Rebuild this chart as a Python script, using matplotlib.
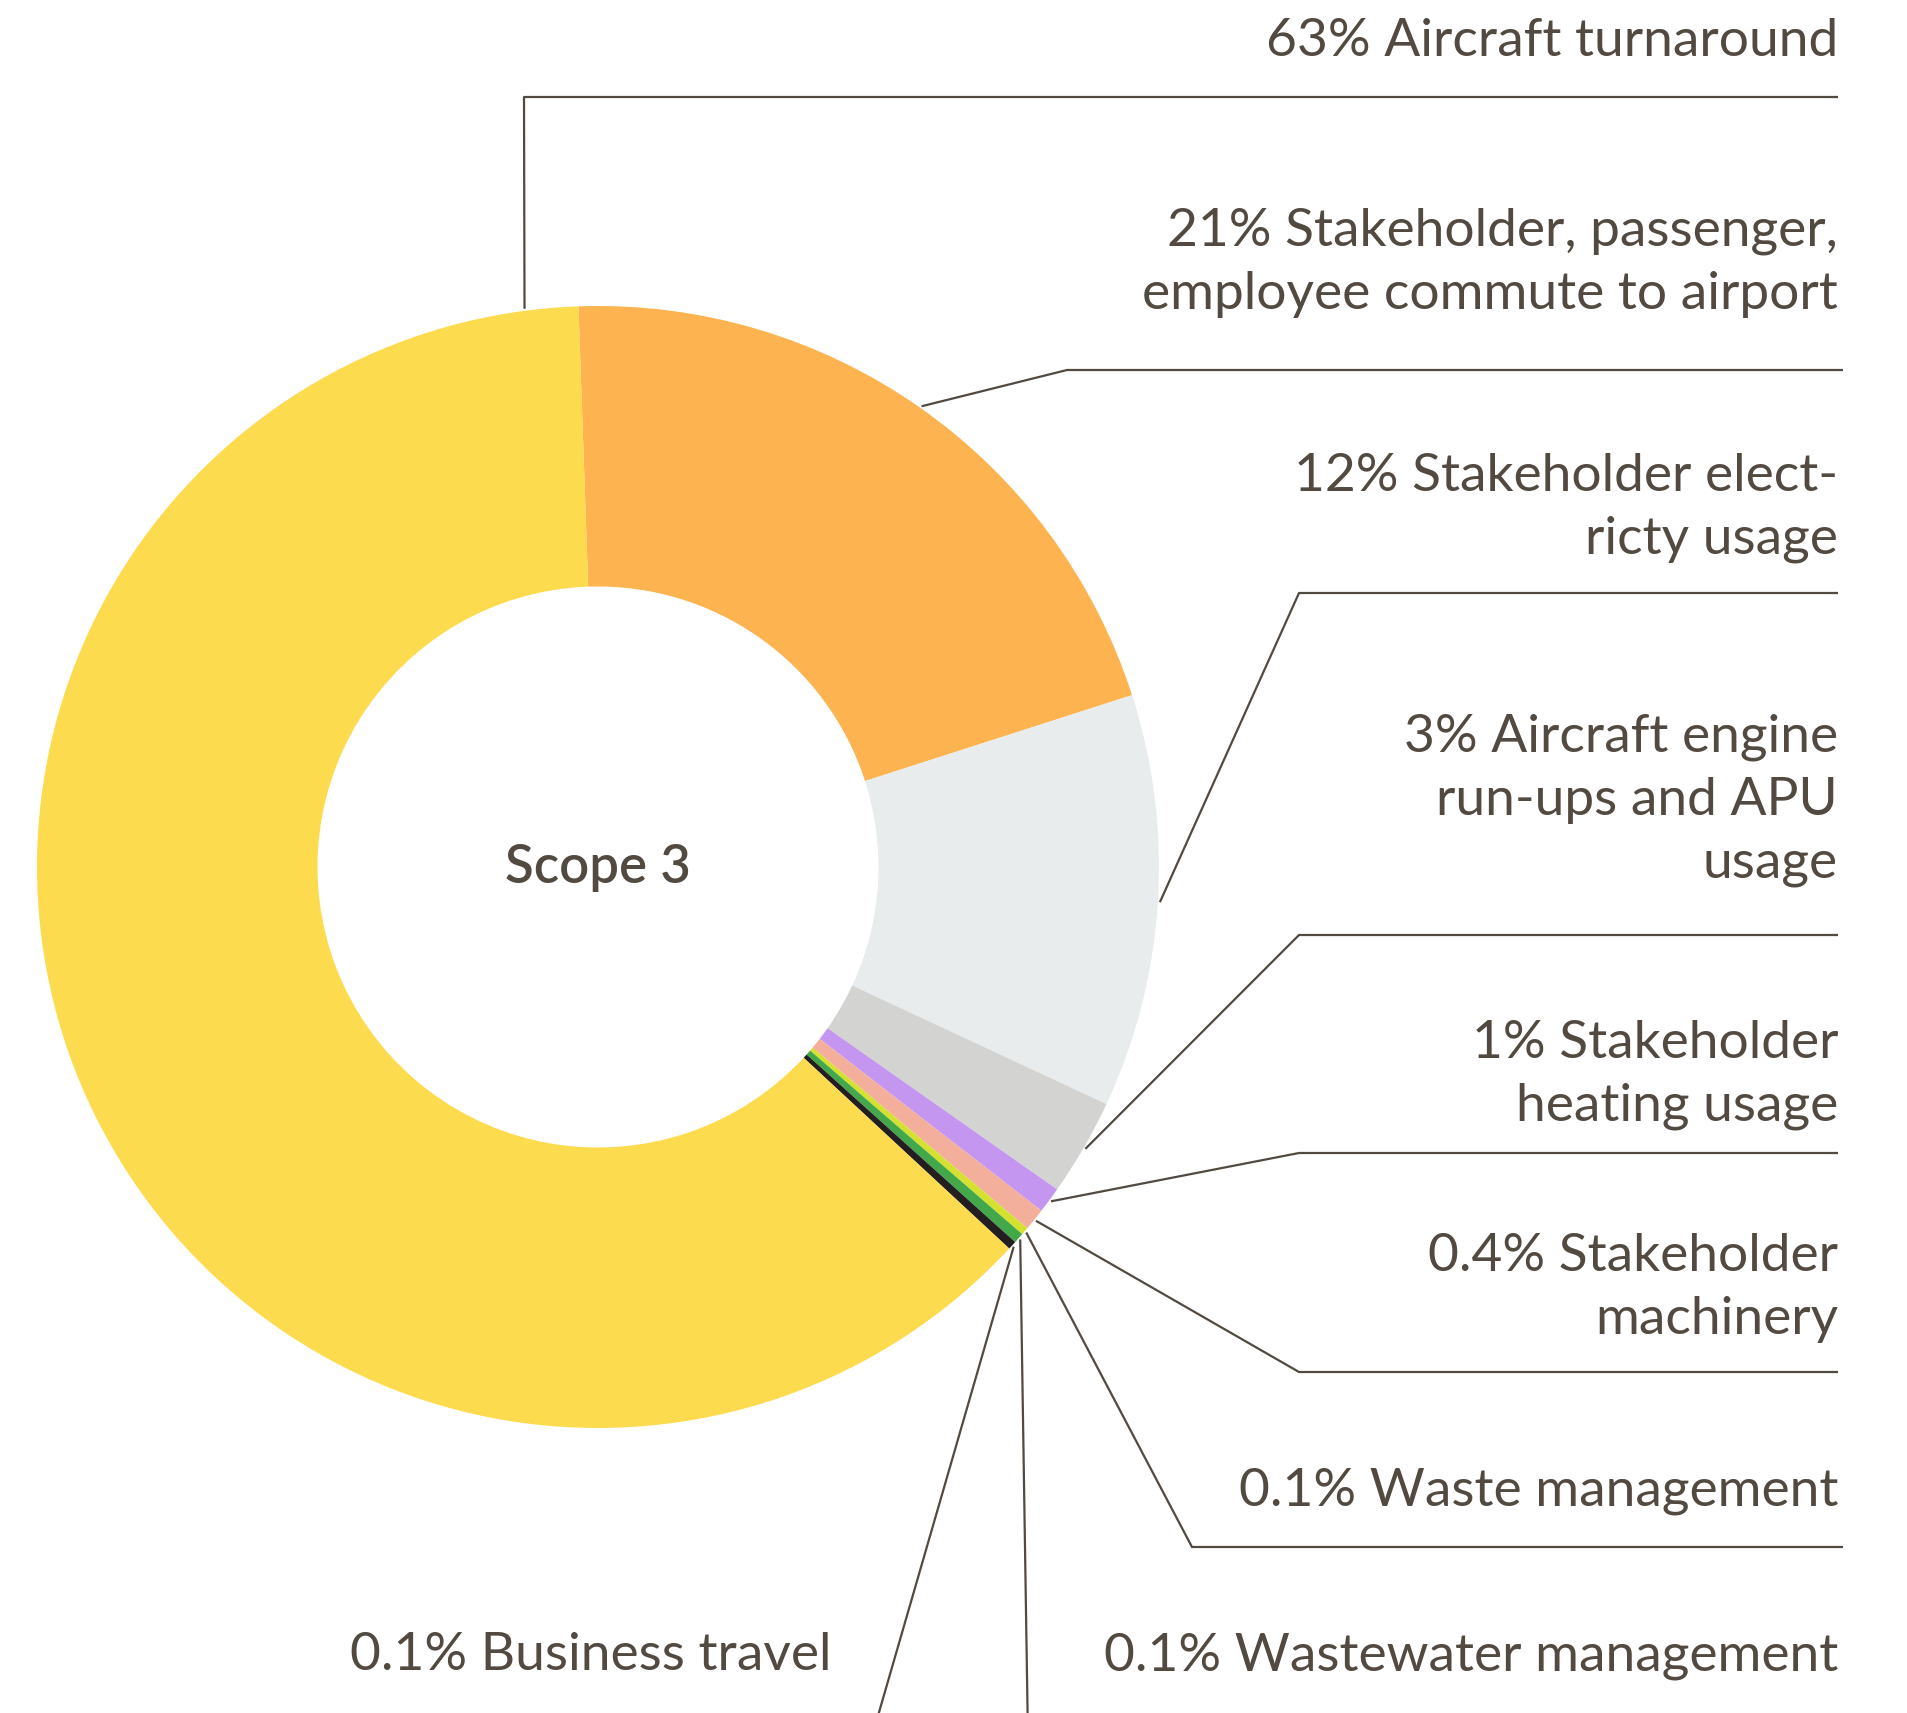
import matplotlib
matplotlib.use("Agg")
import matplotlib.pyplot as plt
import numpy as np

# ---- data ----
categories = ["Stakeholder, passenger, employee commute to airport",
              "Stakeholder electricty usage",
              "Aircraft engine run-ups and APU usage",
              "Stakeholder heating usage",
              "Stakeholder machinery",
              "Waste management",
              "Wastewater management",
              "Business travel",
              "Aircraft turnaround"]
# drawn slice sizes
values = [20.6, 11.9, 2.8, 0.75, 0.64, 0.22, 0.30, 0.25, 62.54]
labels = ["21% Stakeholder, passenger,\nemployee commute to airport",
          "12% Stakeholder elect-\nricty usage",
          "3% Aircraft engine\nrun-ups and APU\nusage",
          "1% Stakeholder\nheating usage",
          "0.4% Stakeholder\nmachinery",
          "0.1% Waste management",
          "0.1% Wastewater management",
          "0.1% Business travel",
          "63% Aircraft turnaround"]
colors = ["#FDB350", "#E8ECEC", "#D3D3D1", "#C596F0", "#F3AF9C",
          "#D5E12F", "#42A84A", "#231F20", "#FDDB4F"]
center_label = "Scope 3"

TXT = "#524940"
W, H = 1907, 1713
fig = plt.figure(figsize=(W / 100, H / 100), dpi=100)
ax = fig.add_axes([0, 0, 1, 1])

def Y(y):
    return H - y

cx, cy, R = 598, Y(867), 561
wedges, _ = ax.pie(values, colors=colors, startangle=92, counterclock=False,
                   radius=R, center=(cx, cy), frame=True,
                   wedgeprops=dict(width=R * 0.5, linewidth=0))
ax.set_xlim(0, W)
ax.set_ylim(0, H)
ax.set_aspect("equal")
ax.axis("off")

ax.text(cx, cy, center_label, ha="center", va="center", fontsize=38,
        fontweight="semibold", family="Lato", color=TXT)

# layout: elbow point, line end x, text anchor (x, y) in pixel coords (y down)
layout = [
    ((1067, 370), 1843, (1838, 263), "right"),
    ((1299, 593), 1838, (1838, 508), "right"),
    ((1299, 935), 1838, (1838, 800), "right"),
    ((1299, 1153), 1838, (1838, 1075), "right"),
    ((1299, 1372), 1838, (1838, 1288), "right"),
    ((1192, 1547), 1843, (1838, 1491), "right"),
    ((1028, 1740), None, (1838, 1656), "right"),
    ((871, 1740), None, (832, 1656), "right"),
    ((524, 97), 1838, (1838, 42), "right"),
]
anchor_angle_override = {8: 97.5}

for i, w in enumerate(wedges):
    ang = anchor_angle_override.get(i, (w.theta1 + w.theta2) / 2)
    a = np.deg2rad(ang)
    r0 = R + 2
    x0, y0 = cx + r0 * np.cos(a), cy + r0 * np.sin(a)
    (ex, ey), lx, (tx, ty), ha = layout[i]
    xs = [x0, ex]
    ys = [y0, Y(ey)]
    if lx is not None:
        xs.append(lx)
        ys.append(Y(ey))
    ax.plot(xs, ys, color=TXT, lw=1.6, solid_capstyle="butt", clip_on=False)
    ax.text(tx, Y(ty), labels[i], ha=ha, va="center", fontsize=38.3,
            family="Lato", color=TXT, linespacing=1.42, multialignment="right")

fig.savefig("out.png", dpi=100)
